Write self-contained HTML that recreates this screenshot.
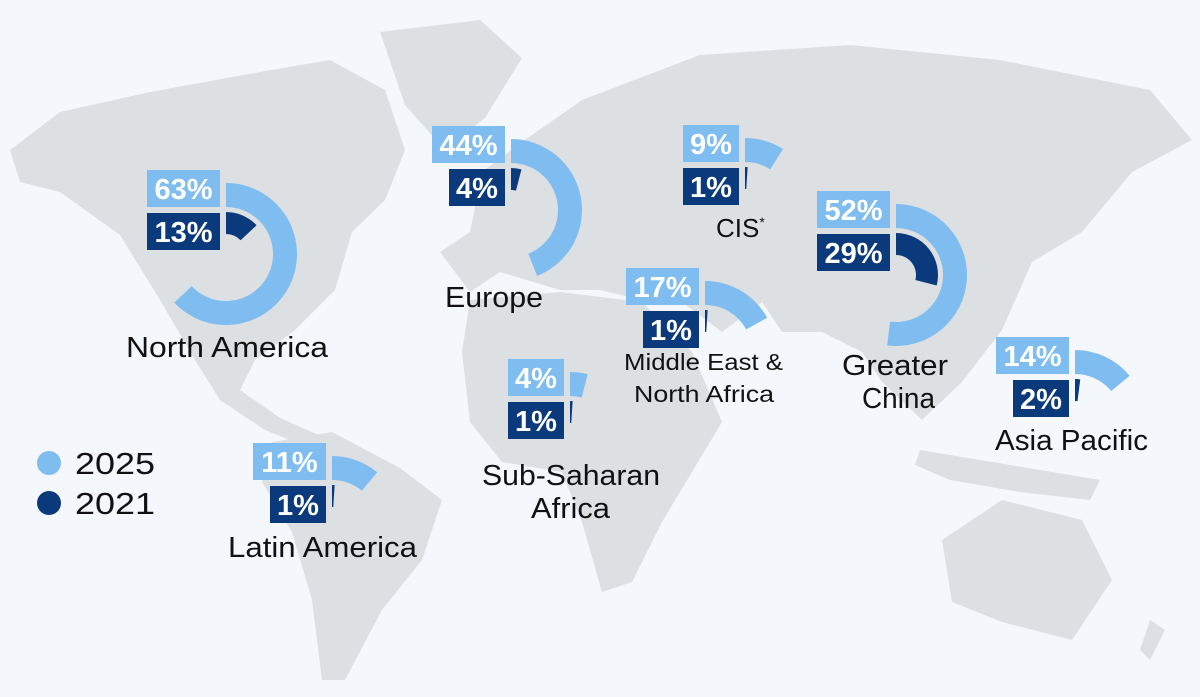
<!DOCTYPE html>
<html><head><meta charset="utf-8">
<style>
html,body{margin:0;padding:0;background:#f4f7fb;}
svg{display:block;font-family:"Liberation Sans","DejaVu Sans",sans-serif;}
</style></head>
<body>
<svg id="chart" width="1200" height="697" viewBox="0 0 1200 697">
<rect width="1200" height="697" fill="#f4f7fb"/>
<g id="map" fill="#dde0e3">
  <path d="M10,150 L60,112 L150,92 L260,72 L330,60 L385,90 L405,150 L385,200 L352,232 L335,290 L295,330 L255,360 L240,390 L280,418 L330,440 L310,448 L265,430 L220,400 L195,360 L160,300 L120,235 L60,192 L20,182 Z"/>
  <path d="M380,32 L480,20 L522,58 L485,118 L445,150 L405,105 Z"/>
  <path d="M272,442 L332,432 L400,468 L442,500 L422,560 L382,610 L345,680 L322,680 L312,600 L292,532 L262,482 Z"/>
  <path d="M440,252 L470,232 L482,172 L522,142 L582,100 L700,55 L850,45 L1000,60 L1150,90 L1192,140 L1132,172 L1082,232 L1032,262 L1002,330 L962,382 L922,420 L882,382 L862,352 L822,332 L782,332 L762,302 L722,332 L682,302 L642,300 L600,290 L560,290 L500,272 L470,292 Z"/>
  <path d="M470,300 L560,292 L642,302 L692,352 L722,422 L692,472 L662,522 L632,582 L602,592 L582,522 L562,472 L502,462 L470,422 L462,352 Z"/>
  <path d="M920,450 L980,460 L1040,470 L1100,480 L1090,500 L1020,492 L950,480 L915,465 Z"/>
  <path d="M942,540 L1002,500 L1082,520 L1112,580 L1072,640 L1002,622 L952,602 Z"/>
  <path d="M1150,620 L1165,630 L1150,660 L1140,650 Z"/>
</g>
<g id="gauges"></g>
<g id="labels" font-size="29" fill="#111">
  <text x="126" y="357" textLength="202" lengthAdjust="spacingAndGlyphs">North America</text>
  <text x="445" y="307" textLength="98" lengthAdjust="spacingAndGlyphs">Europe</text>
  <text x="716" y="237" font-size="26">CIS<tspan font-size="14" dy="-10">*</tspan></text>
  <text x="624" y="370" font-size="23" textLength="159" lengthAdjust="spacingAndGlyphs">Middle East &amp;</text>
  <text x="634" y="402" font-size="23" textLength="140" lengthAdjust="spacingAndGlyphs">North Africa</text>
  <text x="842" y="375" textLength="106" lengthAdjust="spacingAndGlyphs">Greater</text>
  <text x="862" y="408" textLength="73" lengthAdjust="spacingAndGlyphs">China</text>
  <text x="482" y="485" textLength="178" lengthAdjust="spacingAndGlyphs">Sub-Saharan</text>
  <text x="531" y="518" textLength="79" lengthAdjust="spacingAndGlyphs">Africa</text>
  <text x="228" y="557" textLength="189" lengthAdjust="spacingAndGlyphs">Latin America</text>
  <text x="995" y="450" textLength="153" lengthAdjust="spacingAndGlyphs">Asia Pacific</text>
</g>
<g id="legend" font-size="31" fill="#111">
  <circle cx="49" cy="463" r="12" fill="#7fbdf1"/>
  <text x="75" y="474" textLength="80" lengthAdjust="spacingAndGlyphs">2025</text>
  <circle cx="49" cy="503" r="12" fill="#0b3a7c"/>
  <text x="75" y="514" textLength="80" lengthAdjust="spacingAndGlyphs">2021</text>
</g>
</svg>
<script>
const regions = ["north-america","europe","cis","mena","greater-china","sub-saharan-africa","latin-america","asia-pacific"];
const v2025 = [63,44,9,17,52,4,11,14];
const v2021 = [13,4,1,1,29,1,1,2];
const centers = [[226,254],[511,210],[745,209],[705,352],[896,275],[570,443],[332,527],[1075,421]];
const LIGHT="#7fbdf1", DARK="#0b3a7c";
const NS="http://www.w3.org/2000/svg";
const g=document.getElementById('gauges');
function arc(cx,cy,r1,r2,pct){
  const a=Math.min(pct,99.99)/100*2*Math.PI;
  const large=a>Math.PI?1:0;
  const sx=cx, x2=cx+r2*Math.sin(a), y2=cy-r2*Math.cos(a);
  const x1=cx+r1*Math.sin(a), y1=cy-r1*Math.cos(a);
  return `M${sx},${cy-r2} A${r2},${r2} 0 ${large} 1 ${x2},${y2} L${x1},${y1} A${r1},${r1} 0 ${large} 0 ${sx},${cy-r1} Z`;
}
function box(x,yTop,txt,fill,name){
  const w = txt.length>=3?73:56;
  const r=document.createElementNS(NS,'rect');
  r.setAttribute('x',x-6-w); r.setAttribute('y',yTop); r.setAttribute('width',w); r.setAttribute('height',37); r.setAttribute('fill',fill);
  
  
  g.appendChild(r);
  const t=document.createElementNS(NS,'text');
  t.setAttribute('x',x-6-w/2); t.setAttribute('y',yTop+29); t.setAttribute('text-anchor','middle');
  t.setAttribute('fill','#fff'); t.setAttribute('font-size','29'); t.setAttribute('font-weight','bold');
  t.textContent=txt;
  
  
  g.appendChild(t);
}
regions.forEach((rg,i)=>{
  const [cx,cy]=centers[i];
  const p1=document.createElementNS(NS,'path');
  p1.setAttribute('d',arc(cx,cy,47,71,v2025[i])); p1.setAttribute('fill',LIGHT);
  
  
  g.appendChild(p1);
  const p2=document.createElementNS(NS,'path');
  p2.setAttribute('d',arc(cx,cy,20,42,v2021[i])); p2.setAttribute('fill',DARK);
  
  
  g.appendChild(p2);
  box(cx,cy-84,v2025[i]+'%',LIGHT,rg+'-2025');
  box(cx,cy-41,v2021[i]+'%',DARK,rg+'-2021');
});
</script>
</body></html>
